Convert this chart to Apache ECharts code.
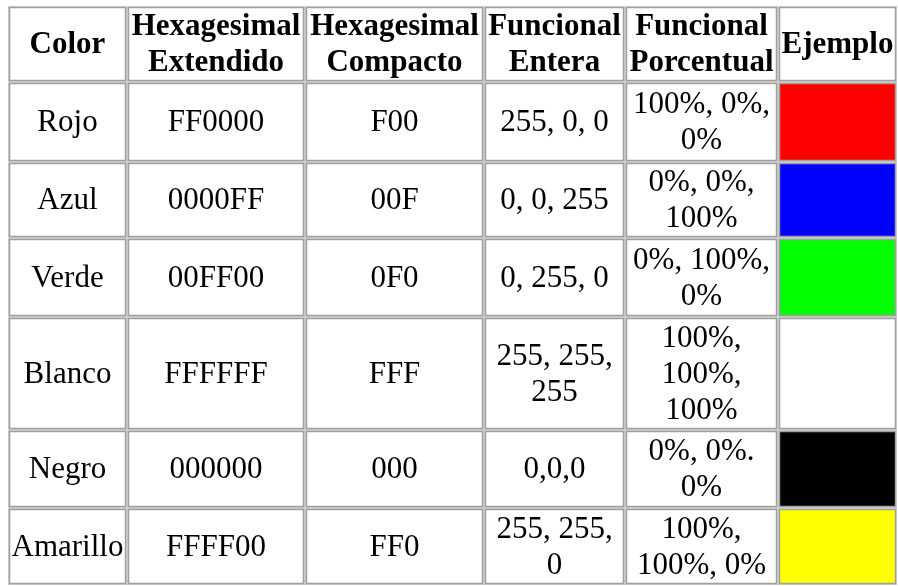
<!DOCTYPE html>
<html>
<head>
<meta charset="utf-8">
<script src="https://cdn.jsdelivr.net/npm/echarts@6/dist/echarts.min.js"></script>
<style>
html,body{margin:0;padding:0;background:#fff;}
#chart{width:898px;height:586px;}
</style>
</head>
<body>
<div id="chart"></div>
<script>
// ---- table content ----
var headers = ['Color', 'Hexagesimal\nExtendido', 'Hexagesimal\nCompacto', 'Funcional\nEntera', 'Funcional\nPorcentual', 'Ejemplo'];
var colorNames = ['Rojo', 'Azul', 'Verde', 'Blanco', 'Negro', 'Amarillo'];
var hexExtendido = ['FF0000', '0000FF', '00FF00', 'FFFFFF', '000000', 'FFFF00'];
var hexCompacto = ['F00', '00F', '0F0', 'FFF', '000', 'FF0'];
var funcEntera = ['255, 0, 0', '0, 0, 255', '0, 255, 0', '255, 255,\n255', '0,0,0', '255, 255,\n0'];
var funcPorcentual = ['100%, 0%,\n0%', '0%, 0%,\n100%', '0%, 100%,\n0%', '100%,\n100%,\n100%', '0%, 0%.\n0%', '100%,\n100%, 0%'];

// ---- layout (sizes, not data) ----
var colWidths = [119, 178, 179, 141, 153, 119];
var rowHeights = [76, 80, 76, 79, 113, 78, 77];

function cumul(a) { var r = [0]; for (var i = 0; i < a.length; i++) r.push(r[i] + a[i]); return r; }
var colEdges = cumul(colWidths);
var rowEdges = cumul(rowHeights);
var totalW = colEdges[colEdges.length - 1];
var totalH = rowEdges[rowEdges.length - 1];

var columns = [colorNames, hexExtendido, hexCompacto, funcEntera, funcPorcentual, null];

var cells = [];
for (var r = 0; r < rowHeights.length; r++) {
  for (var c = 0; c < colWidths.length; c++) {
    cells.push([c, r]);
  }
}

function cellText(c, r) {
  if (r === 0) return headers[c];
  var col = columns[c];
  return col ? col[r - 1] : '';
}
function cellFill(c, r) {
  if (r > 0 && c === 5) return '#' + hexExtendido[r - 1];
  return '#ffffff';
}

var chart = echarts.init(document.getElementById('chart'), null, { renderer: 'canvas' });
chart.setOption({
  animation: false,
  grid: { left: 8, top: 6, width: totalW, height: totalH, show: true, backgroundColor: '#d2d2d2', borderWidth: 0 },
  xAxis: { type: 'value', min: 0, max: totalW, show: false },
  yAxis: { type: 'value', min: 0, max: totalH, inverse: true, show: false },
  series: [{
    type: 'custom',
    coordinateSystem: 'cartesian2d',
    data: cells,
    renderItem: function (params, api) {
      var c = api.value(0), r = api.value(1);
      var p0 = api.coord([colEdges[c], rowEdges[r]]);
      var p1 = api.coord([colEdges[c + 1], rowEdges[r + 1]]);
      var x0 = p0[0] + 1.5, y0 = p0[1] + 1.5, x1 = p1[0] - 1.5, y1 = p1[1] - 1.5;
      var txt = cellText(c, r);
      var children = [{
        type: 'rect',
        shape: { x: x0, y: y0, width: x1 - x0, height: y1 - y0 },
        style: { fill: cellFill(c, r), stroke: '#a0a0a0', lineWidth: 1.5 }
      }];
      if (txt) {
        children.push({
          type: 'text',
          style: {
            text: txt,
            x: (x0 + x1) / 2,
            y: (y0 + y1) / 2 + 1,
            align: 'center',
            verticalAlign: 'middle',
            fontFamily: '"Liberation Serif", "Times New Roman", serif',
            fontSize: 31,
            fontWeight: r === 0 ? 'bold' : 'normal',
            lineHeight: 36,
            fill: '#000000'
          }
        });
      }
      return { type: 'group', children: children };
    }
  }]
});
</script>
</body>
</html>
